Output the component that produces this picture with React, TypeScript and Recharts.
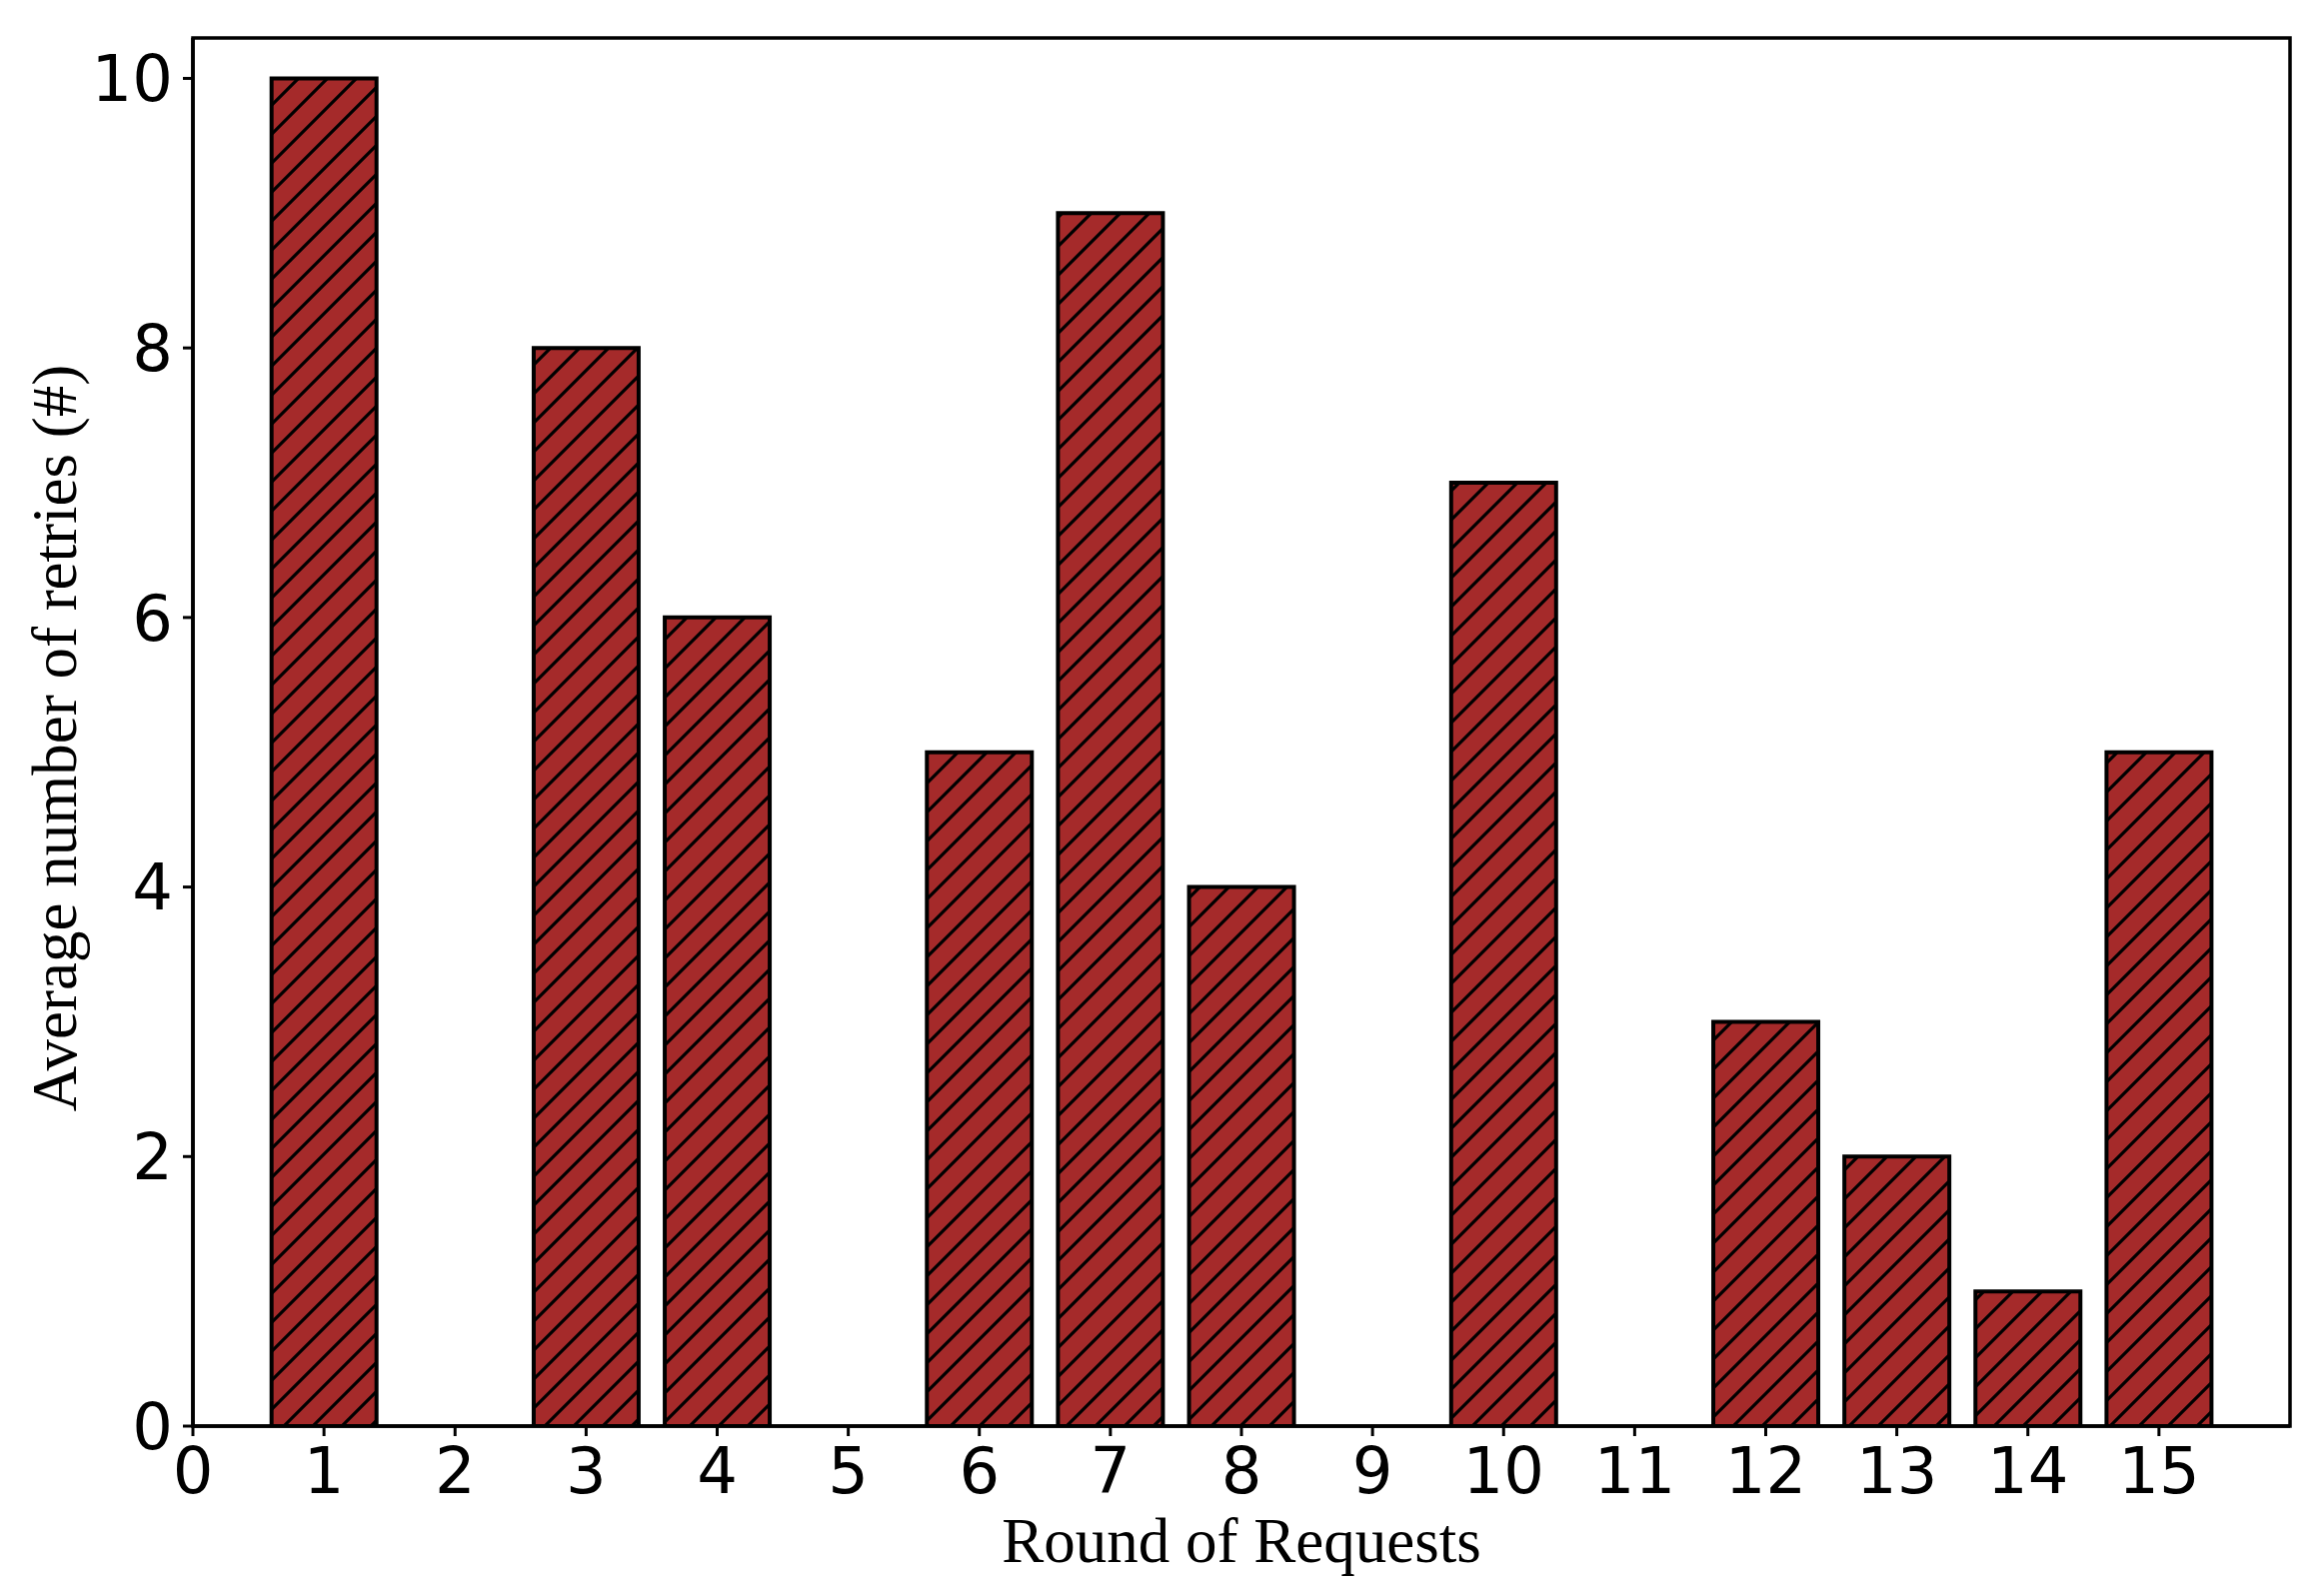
import React from 'react';
import { BarChart, Bar, XAxis, YAxis, ReferenceArea, Label } from 'recharts';

const rounds = [1, 2, 3, 4, 5, 6, 7, 8, 9, 10, 11, 12, 13, 14, 15];
const retries = [10, 0, 8, 6, 0, 5, 9, 4, 0, 7, 0, 3, 2, 1, 5];
const xTicks = [0, 1, 2, 3, 4, 5, 6, 7, 8, 9, 10, 11, 12, 13, 14, 15];
const yTicks = [0, 2, 4, 6, 8, 10];
const xDomain = [0, 16];
const yDomain = [0, 10.3];
const xLabel = 'Round of Requests';
const yLabel = 'Average number of retries (#)';

const data = rounds.map((r, i) => ({ round: r, retries: retries[i] }));

const W = 2325;
const H = 1595;
const BAR_COLOR = '#a52a2a';
const tickFont = { fontFamily: 'DejaVu Sans', fontSize: 64, fill: '#000' };
const labelFont = { fontFamily: 'Liberation Serif', fontSize: 63, fill: '#000' };

const XLabel = (props: any) => {
  const vb = props.viewBox || { x: 193, y: 1427, width: 2098, height: 168 };
  return (
    <text x={vb.x + vb.width / 2} y={vb.y + 136} textAnchor="middle" {...labelFont}>
      {xLabel}
    </text>
  );
};

const YLabel = (props: any) => {
  const vb = props.viewBox || { x: 0, y: 38, width: 193, height: 1389 };
  const cx = 76;
  const cy = vb.y + vb.height / 2 + 6;
  return (
    <text x={cx} y={cy} textAnchor="middle" transform={`rotate(-90, ${cx}, ${cy})`} {...labelFont}>
      {yLabel}
    </text>
  );
};

export default function App() {
  return (
    <div style={{ position: 'absolute', left: 0, top: 0, width: W, height: H, background: '#fff' }}>
      <svg width={0} height={0} style={{ position: 'absolute' }}>
        <defs>
          <pattern id="hatch" patternUnits="userSpaceOnUse" width={29} height={29}>
            <rect x={0} y={0} width={29} height={29} fill={BAR_COLOR} />
            <path d="M-2,2 L2,-2 M0,29 L29,0 M27,31 L31,27" stroke="#000" strokeWidth={3.2} />
          </pattern>
        </defs>
      </svg>
      <BarChart
        width={W}
        height={H}
        data={data}
        margin={{ top: 38, right: 34, left: 0, bottom: 0 }}
        barCategoryGap="10%"
      >
        <XAxis
          dataKey="round"
          type="number"
          domain={xDomain}
          ticks={xTicks}
          interval={0}
          allowDataOverflow
          height={168}
          tick={tickFont}
          tickSize={10}
          tickMargin={12}
          axisLine={{ stroke: '#000', strokeWidth: 3.5 }}
          tickLine={{ stroke: '#000', strokeWidth: 3 }}
        >
          <Label content={XLabel} />
        </XAxis>
        <YAxis
          type="number"
          domain={yDomain}
          ticks={yTicks}
          interval={0}
          allowDataOverflow
          width={193}
          tick={tickFont}
          tickSize={10}
          tickMargin={10}
          axisLine={{ stroke: '#000', strokeWidth: 3.5 }}
          tickLine={{ stroke: '#000', strokeWidth: 3 }}
        >
          <Label content={YLabel} />
        </YAxis>
        <ReferenceArea
          x1={xDomain[0]}
          x2={xDomain[1]}
          y1={yDomain[0]}
          y2={yDomain[1]}
          fill="none"
          stroke="#000"
          strokeWidth={3.5}
          ifOverflow="visible"
        />
        <Bar
          dataKey="retries"
          fill="url(#hatch)"
          stroke="#000"
          strokeWidth={4}
          isAnimationActive={false}
        />
      </BarChart>
    </div>
  );
}
